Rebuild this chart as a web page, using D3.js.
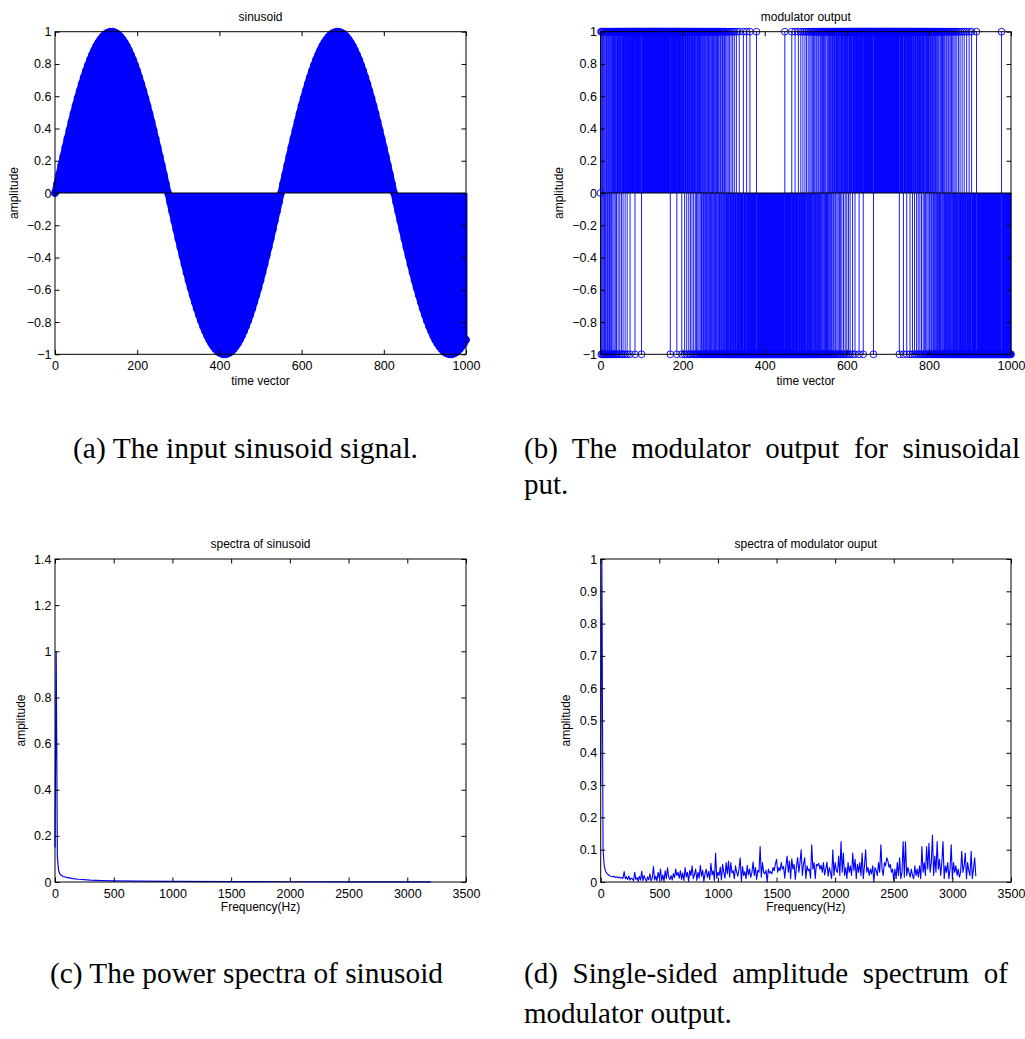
<!DOCTYPE html>
<html>
<head>
<meta charset="utf-8">
<script src="https://cdn.jsdelivr.net/npm/d3@7"></script>
<style>
  body { margin: 0; background: #fff; }
  svg text { font-family: "Liberation Sans", Arial, sans-serif; fill: #000; }
  .caption { font-family: "Liberation Serif", "Times New Roman", serif; font-size: 29px; }
</style>
</head>
<body>
<svg id="fig" width="1025" height="1039"></svg>
<script>
// ── Data ─────────────────────────────────────────────────────────────────────
// (a) input sinusoid, one value every 5 samples, t = 0 … 1000
const SIN_STEP = 5;
const SIN_AMP = [
  0,0.057,0.114,0.171,0.226,0.282,0.336,0.389,0.441,0.492,
  0.541,0.588,0.633,0.676,0.717,0.756,0.792,0.826,0.856,0.884,
  0.910,0.932,0.951,0.967,0.980,0.990,0.996,1.000,1.000,0.996,
  0.990,0.980,0.967,0.951,0.932,0.910,0.884,0.856,0.826,0.792,
  0.756,0.717,0.676,0.633,0.588,0.541,0.492,0.441,0.389,0.336,
  0.282,0.226,0.171,0.114,0.057,0,-0.057,-0.114,-0.171,-0.226,
  -0.282,-0.336,-0.389,-0.441,-0.492,-0.541,-0.588,-0.633,-0.676,-0.717,
  -0.756,-0.792,-0.826,-0.856,-0.884,-0.910,-0.932,-0.951,-0.967,-0.980,
  -0.990,-0.996,-1.000,-1.000,-0.996,-0.990,-0.980,-0.967,-0.951,-0.932,
  -0.910,-0.884,-0.856,-0.826,-0.792,-0.756,-0.717,-0.676,-0.633,-0.588,
  -0.541,-0.492,-0.441,-0.389,-0.336,-0.282,-0.226,-0.171,-0.114,-0.057,
  0,0.057,0.114,0.171,0.226,0.282,0.336,0.389,0.441,0.492,
  0.541,0.588,0.633,0.676,0.717,0.756,0.792,0.826,0.856,0.884,
  0.910,0.932,0.951,0.967,0.980,0.990,0.996,1.000,1.000,0.996,
  0.990,0.980,0.967,0.951,0.932,0.910,0.884,0.856,0.826,0.792,
  0.756,0.717,0.676,0.633,0.588,0.541,0.492,0.441,0.389,0.336,
  0.282,0.226,0.171,0.114,0.057,0,-0.057,-0.114,-0.171,-0.226,
  -0.282,-0.336,-0.389,-0.441,-0.492,-0.541,-0.588,-0.633,-0.676,-0.717,
  -0.756,-0.792,-0.826,-0.856,-0.884,-0.910,-0.932,-0.951,-0.967,-0.980,
  -0.990,-0.996,-1.000,-1.000,-0.996,-0.990,-0.980,-0.967,-0.951,-0.932,
  -0.910
];

// (b) modulator output, samples 0 … 1000. Sample 0 is 0; every later sample
// takes the sign of its half cycle, except the samples listed in MOD_FLIPS.
const MOD_LAST = 1000;
const MOD_HALF_START = [1, 276, 551, 826];
const MOD_HALF_SIGN  = [1, -1, 1, -1];
const MOD_FLIPS = [
  2,4,6,8,10,12,14,17,19,22,24,27,30,33,36,39,43,47,51,55,60,65,72,84,100,
  170,186,198,205,210,215,219,223,227,231,234,237,240,243,246,248,251,253,
  256,258,260,262,264,266,268,270,272,274,
  277,279,281,283,285,287,289,292,294,297,299,302,305,308,311,314,318,322,
  326,331,338,348,356,364,380,
  449,466,474,482,488,493,498,502,506,510,513,516,519,522,525,527,530,532,
  535,537,539,541,543,545,547,549,
  551,553,555,557,559,561,563,566,568,571,573,576,579,582,585,588,592,596,
  600,604,608,614,620,630,640,665,
  728,738,746,754,760,765,770,774,778,782,786,789,792,795,798,801,803,806,
  808,811,813,815,817,819,821,823,825,
  827,829,831,833,835,837,839,842,844,847,849,852,855,858,861,864,868,872,
  876,881,886,892,898,904,916,977
];

// (c) spectrum of the sinusoid
const SPEC_SIN_FREQ = [0,10,20,30,40,50,70,100,150,200,300,400,500,700,1000,1500,2000,2500,3000,3200];
const SPEC_SIN_AMP  = [0.15,1.0,0.11,0.052,0.036,0.030,0.024,0.020,0.015,0.012,0.008,0.006,0.005,0.0035,0.0025,0.0016,0.0011,0.0008,0.0005,0.0004];

// (d) spectrum of the modulator output, one value every 10 Hz, 0 … 3200 Hz
const SPEC_MOD_STEP = 10;
const SPEC_MOD_AMP = [
  0.30,1.00,0.10,0.05,0.035,0.028,0.024,0.021,0.019,0.017,
  0.016,0.018,0.014,0.016,0.015,0.013,0.015,0.012,0.014,0.011,
  0.032,0.010,0.016,0.008,0.018,0.006,0.012,0.010,0.004,0.030,
  0.008,0.014,0.002,0.018,0.006,0.033,0.004,0.020,0.010,0.002,
  0.016,0.007,0.025,0.003,0.012,0.048,0.006,0.018,0.003,0.030,
  0.012,0.040,0.005,0.022,0.002,0.035,0.010,0.044,0.015,0.008,
  0.020,0.006,0.026,0.014,0.040,0.020,0.030,0.012,0.035,0.008,
  0.028,0.004,0.045,0.016,0.030,0.002,0.036,0.020,0.050,0.010,
  0.024,0.040,0.005,0.030,0.012,0.052,0.018,0.036,0.002,0.026,
  0.040,0.014,0.032,0.008,0.058,0.022,0.035,0.004,0.090,0.012,
  0.030,0.020,0.046,0.006,0.055,0.030,0.012,0.060,0.025,0.065,
  0.015,0.060,0.028,0.035,0.010,0.050,0.030,0.018,0.040,0.075,
  0.002,0.048,0.020,0.032,0.010,0.052,0.022,0.040,0.014,0.030,
  0.062,0.020,0.045,0.008,0.036,0.030,0.110,0.015,0.060,0.030,
  0.025,0.036,0.000,0.040,0.028,0.032,0.025,0.045,0.035,0.055,
  0.070,0.030,0.045,0.035,0.060,0.040,0.048,0.012,0.050,0.080,
  0.030,0.065,0.010,0.072,0.040,0.055,0.008,0.048,0.076,0.030,
  0.060,0.100,0.020,0.055,0.075,0.010,0.050,0.035,0.040,0.012,
  0.115,0.040,0.060,0.010,0.055,0.050,0.058,0.040,0.052,0.030,
  0.060,0.022,0.040,0.062,0.018,0.045,0.030,0.010,0.100,0.020,
  0.060,0.035,0.030,0.080,0.020,0.125,0.030,0.090,0.020,0.045,
  0.010,0.060,0.030,0.050,0.020,0.090,0.035,0.070,0.010,0.055,
  0.030,0.060,0.020,0.090,0.010,0.050,0.100,0.030,0.045,0.020,
  0.040,0.025,0.050,0.000,0.045,0.035,0.020,0.060,0.030,0.115,
  0.040,0.020,0.060,0.050,0.075,0.065,0.045,0.055,0.030,0.040,
  0.005,0.040,0.010,0.060,0.020,0.075,0.010,0.030,0.125,0.015,
  0.125,0.020,0.045,0.030,0.015,0.040,0.020,0.010,0.050,0.020,
  0.040,0.015,0.050,0.010,0.110,0.030,0.060,0.020,0.110,0.040,
  0.120,0.030,0.060,0.145,0.020,0.080,0.030,0.125,0.040,0.070,
  0.020,0.060,0.125,0.010,0.050,0.030,0.060,0.010,0.040,0.115,
  0.010,0.060,0.030,0.050,0.020,0.040,0.015,0.030,0.095,0.030,
  0.050,0.090,0.010,0.060,0.035,0.020,0.095,0.010,0.040,0.075,
  0.018
];

// Ticks
const TIME_TICKS = [0, 200, 400, 600, 800, 1000];
const AMP_TICKS  = [-1, -0.8, -0.6, -0.4, -0.2, 0, 0.2, 0.4, 0.6, 0.8, 1];
const FREQ_TICKS = [0, 500, 1000, 1500, 2000, 2500, 3000, 3500];
const SIN_SPEC_TICKS = [0, 0.2, 0.4, 0.6, 0.8, 1, 1.2, 1.4];
const MOD_SPEC_TICKS = [0, 0.1, 0.2, 0.3, 0.4, 0.5, 0.6, 0.7, 0.8, 0.9, 1];

// ── Layout ───────────────────────────────────────────────────────────────────
const BLUE = "#0000ff";
const TICK = 4.5;
const svg = d3.select("#fig");

const BOX = {
  a: { l: 55,    r: 466,  t: 31.7, b: 354.3 },
  b: { l: 600.5, r: 1011, t: 31.7, b: 354.3 },
  c: { l: 55,    r: 466,  t: 559,  b: 882 },
  d: { l: 600.7, r: 1011, t: 559,  b: 882 },
};

function scales(box, xDom, yDom) {
  return {
    x: d3.scaleLinear().domain(xDom).range([box.l, box.r]),
    y: d3.scaleLinear().domain(yDom).range([box.b, box.t]),
  };
}

// Box, inward ticks on all four sides, labels
function frame(box, s, xTicks, yTicks, t) {
  const g = svg.append("g");
  const fmt = d3.format("~g");
  g.append("g").attr("transform", `translate(0,${box.b})`)
    .call(d3.axisBottom(s.x).tickValues(xTicks).tickFormat(fmt)
      .tickSizeInner(-TICK).tickSizeOuter(0).tickPadding(7));
  g.append("g").attr("transform", `translate(0,${box.t})`)
    .call(d3.axisTop(s.x).tickValues(xTicks).tickFormat("")
      .tickSizeInner(-TICK).tickSizeOuter(0));
  g.append("g").attr("transform", `translate(${box.l},0)`)
    .call(d3.axisLeft(s.y).tickValues(yTicks).tickFormat(fmt)
      .tickSizeInner(-TICK).tickSizeOuter(0).tickPadding(3.5));
  g.append("g").attr("transform", `translate(${box.r},0)`)
    .call(d3.axisRight(s.y).tickValues(yTicks).tickFormat("")
      .tickSizeInner(-TICK).tickSizeOuter(0));
  g.selectAll(".domain").remove();
  g.selectAll(".tick line").attr("stroke", "#000");
  g.selectAll(".tick text").attr("fill", "#000")
    .style("font-family", '"Liberation Sans", Arial, sans-serif')
    .style("font-size", "12.5px");

  g.append("rect")
    .attr("x", box.l).attr("y", box.t)
    .attr("width", box.r - box.l).attr("height", box.b - box.t)
    .attr("fill", "none").attr("stroke", "#000").attr("stroke-width", 1);

  const cx = (box.l + box.r) / 2;
  g.append("text").attr("x", cx).attr("y", box.t - 11.2)
    .attr("text-anchor", "middle").style("font-size", "12px").text(t.title);
  g.append("text").attr("x", cx).attr("y", box.b + t.xlOff)
    .attr("text-anchor", "middle").style("font-size", "12px").text(t.xlabel);
  g.append("text")
    .attr("transform", `translate(${box.l - t.ylOff},${(box.t + box.b) / 2}) rotate(-90)`)
    .attr("text-anchor", "middle").style("font-size", "12px").text("amplitude");
}

// ── (a) sinusoid: stem plot ─────────────────────────────────────────────────
{
  const box = BOX.a;
  const s = scales(box, [0, 1000], [-1, 1]);
  const pts = SIN_AMP.map((v, i) => ({ t: i * SIN_STEP, v }));
  const g = svg.append("g");

  g.selectAll("line.stem").data(pts).join("line").attr("class", "stem")
    .attr("x1", d => s.x(d.t)).attr("x2", d => s.x(d.t))
    .attr("y1", s.y(0)).attr("y2", d => s.y(d.v))
    .attr("stroke", BLUE).attr("stroke-width", 2.9);

  // overlapping markers form a thick band along the curve
  g.append("path").datum(pts)
    .attr("d", d3.line().x(d => s.x(d.t)).y(d => s.y(d.v)))
    .attr("fill", "none").attr("stroke", BLUE).attr("stroke-width", 7)
    .attr("stroke-linejoin", "round").attr("stroke-linecap", "round");

  g.selectAll("circle").data(pts).join("circle")
    .attr("cx", d => s.x(d.t)).attr("cy", d => s.y(d.v)).attr("r", 3.5)
    .attr("fill", "none").attr("stroke", BLUE).attr("stroke-width", 1);

  g.append("line")
    .attr("x1", s.x(0)).attr("x2", s.x(1000))
    .attr("y1", s.y(0)).attr("y2", s.y(0))
    .attr("stroke", "#000").attr("stroke-width", 1.2);

  frame(box, s, TIME_TICKS, AMP_TICKS,
    { title: "sinusoid", xlabel: "time vector", xlOff: 31, ylOff: 37 });
}

// ── (b) modulator output: stem plot ─────────────────────────────────────────
{
  const box = BOX.b;
  const s = scales(box, [0, 1000], [-1, 1]);
  const flips = new Set(MOD_FLIPS);
  const pts = d3.range(0, MOD_LAST + 1).map(n => {
    if (n === 0) return { t: 0, v: 0 };
    const h = d3.bisectRight(MOD_HALF_START, n) - 1;
    const sign = MOD_HALF_SIGN[h];
    return { t: n, v: flips.has(n) ? -sign : sign };
  });
  const g = svg.append("g");

  g.selectAll("line.stem").data(pts).join("line").attr("class", "stem")
    .attr("x1", d => s.x(d.t)).attr("x2", d => s.x(d.t))
    .attr("y1", s.y(0)).attr("y2", d => s.y(d.v))
    .attr("stroke", BLUE).attr("stroke-width", 0.9);

  g.selectAll("circle").data(pts).join("circle")
    .attr("cx", d => s.x(d.t)).attr("cy", d => s.y(d.v)).attr("r", 3.4)
    .attr("fill", "none").attr("stroke", BLUE).attr("stroke-width", 0.9);

  g.append("line")
    .attr("x1", s.x(0)).attr("x2", s.x(1000))
    .attr("y1", s.y(0)).attr("y2", s.y(0))
    .attr("stroke", "#000").attr("stroke-width", 1.2);

  frame(box, s, TIME_TICKS, AMP_TICKS,
    { title: "modulator output", xlabel: "time vector", xlOff: 31, ylOff: 37.5 });
}

// ── (c) spectra of sinusoid ─────────────────────────────────────────────────
{
  const box = BOX.c;
  const s = scales(box, [0, 3500], [0, 1.4]);
  const pts = SPEC_SIN_FREQ.map((f, i) => ({ f, v: SPEC_SIN_AMP[i] }));
  svg.append("path").datum(pts)
    .attr("d", d3.line().x(d => s.x(d.f)).y(d => s.y(d.v)))
    .attr("fill", "none").attr("stroke", BLUE).attr("stroke-width", 1.2);

  frame(box, s, FREQ_TICKS, SIN_SPEC_TICKS,
    { title: "spectra of sinusoid", xlabel: "Frequency(Hz)", xlOff: 28.5, ylOff: 30 });
}

// ── (d) spectra of modulator output ─────────────────────────────────────────
{
  const box = BOX.d;
  const s = scales(box, [0, 3500], [0, 1]);
  const pts = SPEC_MOD_AMP.map((v, i) => ({ f: i * SPEC_MOD_STEP, v }));
  svg.append("path").datum(pts)
    .attr("d", d3.line().x(d => s.x(d.f)).y(d => s.y(d.v)))
    .attr("fill", "none").attr("stroke", BLUE).attr("stroke-width", 1.1)
    .attr("stroke-linejoin", "round");

  frame(box, s, FREQ_TICKS, MOD_SPEC_TICKS,
    { title: "spectra of modulator ouput", xlabel: "Frequency(Hz)", xlOff: 28.5, ylOff: 30.5 });
}

// ── Captions ────────────────────────────────────────────────────────────────
function caption(x, y, str, opts = {}) {
  const t = svg.append("text").attr("class", "caption")
    .attr("x", x).attr("y", y).text(str);
  if (opts.fit) t.attr("textLength", opts.fit).attr("lengthAdjust", "spacingAndGlyphs");
  if (opts.justify) {
    // spread the words so that the line spans `opts.justify` pixels
    const w = t.node().getComputedTextLength();
    const gaps = str.split(" ").length - 1;
    t.style("word-spacing", `${(opts.justify - w) / gaps}px`);
  }
  return t;
}

caption(73, 458, "(a) The input sinusoid signal.", { fit: 345 });
caption(524, 458, "(b) The modulator output for sinusoidal", { justify: 496 });
caption(524, 494, "put.");
caption(50, 983, "(c) The power spectra of sinusoid", { fit: 393 });
caption(524, 983, "(d) Single-sided amplitude spectrum of", { justify: 484 });
caption(524, 1023, "modulator output.");
</script>
</body>
</html>
